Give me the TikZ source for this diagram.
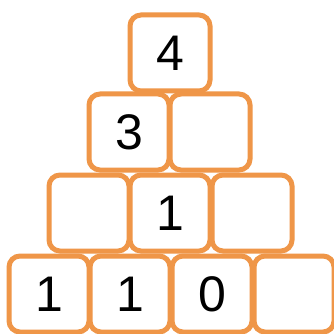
\documentclass[tikz,border=0pt]{standalone}
\usepackage{fontspec}
\setmainfont{Liberation Sans}
\definecolor{boxorange}{RGB}{239,150,72}
\begin{document}
\begin{tikzpicture}[x=1pt,y=-1pt,
  brick/.style={draw=boxorange, line width=5pt, rounded corners=11pt,
    minimum width=80pt, minimum height=76pt, inner sep=0pt,
    font=\fontsize{50}{50}\selectfont, text=black}]
\useasboundingbox[fill=white] (0,0) rectangle (333,334);
% row 4
\node[brick] (d1) at (49,294) {1};
\node[brick] (d2) at (130,294) {1};
\node[brick] (d3) at (212,294) {0};
\node[brick] (d4) at (294,294) {};
% row 3
\node[brick] (c1) at (89,213) {};
\node[brick] (c2) at (170,213) {1};
\node[brick] (c3) at (252,213) {};
% row 2
\node[brick] (b1) at (129,132) {3};
\node[brick] (b2) at (210,132) {};
% row 1
\node[brick] (a1) at (170,53) {4};
\end{tikzpicture}
\end{document}
